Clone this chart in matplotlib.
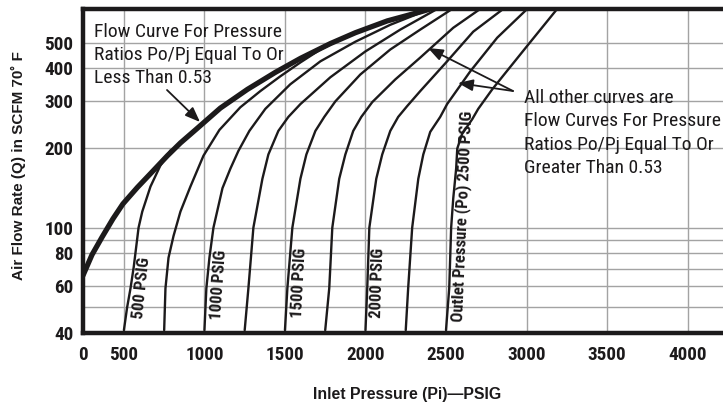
import numpy as np
import matplotlib
matplotlib.use('Agg')
import matplotlib.pyplot as plt
from matplotlib import font_manager as fm
from matplotlib.ticker import FixedLocator, FixedFormatter, NullFormatter

# ---------------- data ----------------
x_ticks = [0, 500, 1000, 1500, 2000, 2500, 3000, 3500, 4000]
x_labels = ['0', '500', '1000', '1500', '2000', '2500', '3000', '3500', '4000']
y_ticks = [40, 60, 80, 100, 200, 300, 400, 500]
y_labels = ['40', '60', '80', '100', '200', '300', '400', '500']
y_grid_minor = [50, 70, 90]

# critical flow curve (Po/Pi <= 0.53)
crit_pi = [0, 110, 232, 366, 488, 584, 665, 770, 851, 944, 1099, 1267, 1440, 1596, 1782, 1937, 2135, 2340, 2402]
crit_q = [66, 79, 92, 108, 123, 142, 160, 187, 209, 234, 283, 333, 386, 436, 496, 545, 604, 653, 670]

# outlet-pressure curves: inlet pressure (Pi) and flow (Q)
po500_pi = [500, 520, 541, 561, 591, 614, 665, 727, 790]
po500_q = [41, 50, 59, 71, 100, 115, 143, 172, 196]

po750_pi = [750, 758, 777, 808, 851, 913, 994, 1093, 1223, 1347, 1471, 1596, 1720, 1875, 2061, 2278]
po750_q = [41, 59, 77, 93, 115, 143, 187, 234, 285, 328, 373, 421, 471, 526, 584, 642]

po1000_pi = [1000, 1012, 1031, 1056, 1112, 1161, 1211, 1279, 1378, 1533, 1720, 1937, 2154, 2371]
po1000_q = [41, 59, 77, 100, 141, 167, 195, 232, 281, 348, 425, 504, 584, 659]

po1250_pi = [1250, 1273, 1304, 1360, 1397, 1459, 1521, 1596, 1782, 1999, 2216, 2445]
po1250_q = [41, 59, 100, 153, 189, 232, 262, 293, 370, 463, 560, 670]

po1500_pi = [1500, 1515, 1546, 1596, 1633, 1689, 1744, 1813, 1968, 2154, 2340, 2538]
po1500_q = [41, 59, 100, 153, 189, 232, 262, 300, 379, 471, 560, 670]

po1750_pi = [1750, 1775, 1794, 1837, 1875, 1924, 1974, 2042, 2185, 2340, 2545, 2712]
po1750_q = [41, 59, 100, 153, 189, 232, 262, 298, 363, 439, 569, 670]

po2000_pi = [2000, 2011, 2024, 2067, 2104, 2154, 2203, 2259, 2340, 2507, 2669, 2855]
po2000_q = [41, 59, 100, 153, 189, 232, 262, 288, 328, 425, 550, 670]

po2250_pi = [2250, 2265, 2290, 2328, 2359, 2402, 2464, 2507, 2650, 2818, 3004]
po2250_q = [41, 59, 100, 153, 189, 230, 262, 293, 389, 522, 670]

po2500_pi = [2500, 2520, 2532, 2545, 2563, 2570, 2600, 2663, 2700, 2787, 2861, 3010, 3190]
po2500_q = [41, 59, 100, 129, 167, 199, 226, 257, 281, 333, 379, 491, 670]

outlet_curves = [
    (po500_pi, po500_q), (po750_pi, po750_q), (po1000_pi, po1000_q),
    (po1250_pi, po1250_q), (po1500_pi, po1500_q), (po1750_pi, po1750_q),
    (po2000_pi, po2000_q), (po2250_pi, po2250_q), (po2500_pi, po2500_q),
]


# ---------------- fonts ----------------
def pick_condensed():
    cands = [('Liberation Sans Narrow', 'normal'), ('Arial Narrow', 'normal'),
             ('Roboto Condensed', 'normal'), ('Roboto', 'condensed'),
             ('DejaVu Sans', 'condensed'), ('Open Sans', 'condensed')]
    for fam, st in cands:
        try:
            p = fm.findfont(fm.FontProperties(family=fam, stretch=st), fallback_to_default=False)
        except Exception:
            continue
        low = p.lower()
        if 'narrow' in low or 'condensed' in low:
            return fam, st
    return None


_cond = pick_condensed()
if _cond is not None:
    NARROW, STRETCH = [_cond[0], 'DejaVu Sans'], _cond[1]
    TICK_FS, NOTE_FS, CURVE_FS = 13.8, 14, 12
else:
    NARROW, STRETCH = ['Liberation Sans', 'DejaVu Sans'], 'normal'
    TICK_FS, NOTE_FS, CURVE_FS = 11, 12, 10
SANS = ['Liberation Sans', 'DejaVu Sans']
INK = '#1c1a1b'
GRID = '#a3a3a3'

# ---------------- figure ----------------
W, H = 723, 404
fig = plt.figure(figsize=(W / 100, H / 100), dpi=100)
ax = fig.add_axes([83 / W, (H - 333) / H, (W - 83) / W, (333 - 9) / H])


def fwd(x):
    x = np.asarray(x, dtype=float)
    return np.where(x < 500, 246 + x * 0.508, x)


def inv(u):
    u = np.asarray(u, dtype=float)
    return np.where(u < 500, (u - 246) / 0.508, u)


ax.set_xscale('function', functions=(fwd, inv))
ax.set_yscale('log')
ax.set_xlim(0, 4220)
ax.set_ylim(40, 670)

ax.xaxis.set_major_locator(FixedLocator(x_ticks))
ax.xaxis.set_major_formatter(FixedFormatter(x_labels))
ax.xaxis.set_minor_locator(FixedLocator([]))
ax.yaxis.set_major_locator(FixedLocator(y_ticks))
ax.yaxis.set_major_formatter(FixedFormatter(y_labels))
ax.yaxis.set_minor_locator(FixedLocator(y_grid_minor))
ax.yaxis.set_minor_formatter(NullFormatter())
ax.grid(True, which='both', color=GRID, lw=1.0, zorder=0)
ax.set_axisbelow(True)

ax.tick_params(axis='both', which='both', length=0)
ax.tick_params(axis='x', pad=9)
ax.tick_params(axis='y', pad=7)
for lab in ax.get_xticklabels() + ax.get_yticklabels():
    lab.set_family(NARROW)
    lab.set_fontstretch(STRETCH)
    lab.set_fontweight('bold')
    lab.set_fontsize(TICK_FS)
    lab.set_color(INK)

for side in ['left', 'top', 'bottom']:
    ax.spines[side].set_linewidth(3.2)
    ax.spines[side].set_color(INK)
ax.spines['right'].set_visible(False)

for pi, q in outlet_curves:
    ax.plot(pi, q, color=INK, lw=1.7, solid_joinstyle='round', solid_capstyle='round', zorder=3)
ax.plot(crit_pi, crit_q, color=INK, lw=3.8, solid_joinstyle='round', solid_capstyle='round', zorder=4)


def px(x, y):
    return x / W, 1 - y / H


for s, (x, y), rot in [('500 PSIG', (142, 288), 84), ('1000 PSIG', (219, 285), 86),
                       ('1500 PSIG', (299, 283), 87), ('2000 PSIG', (378, 283), 88),
                       ('Outlet Pressure (Po) 2500 PSIG', (462, 216), 87.5)]:
    fig.text(*px(x, y), s, rotation=rot, rotation_mode='anchor', ha='center', va='center',
             family=NARROW, fontstretch=STRETCH, fontweight='bold', fontsize=CURVE_FS, color=INK)

left_lines = ['Flow Curve For Pressure', 'Ratios Po/Pj Equal To Or', 'Less Than 0.53']
for i, s in enumerate(left_lines):
    fig.text(*px(94, 37 + 23 * i), s, ha='left', va='baseline', family=NARROW,
             fontstretch=STRETCH, fontsize=NOTE_FS, color=INK)
right_lines = ['All other curves are', 'Flow Curves For Pressure', 'Ratios Po/Pj Equal To Or',
               'Greater Than 0.53']
for i, s in enumerate(right_lines):
    fig.text(*px(524, 103 + 23.3 * i), s, ha='left', va='baseline', family=NARROW,
             fontstretch=STRETCH, fontsize=NOTE_FS, color=INK)

arrow = dict(arrowstyle='-|>,head_length=0.9,head_width=0.35', lw=1.3, color=INK,
             shrinkA=0, shrinkB=0)
for tail, tip in [((167, 90), (200, 122)), ((513, 91), (428, 48)), ((513, 91), (458, 83))]:
    ax.annotate('', xy=(tip[0], H - tip[1]), xycoords='figure pixels',
                xytext=(tail[0], H - tail[1]), textcoords='figure pixels',
                arrowprops=arrow, annotation_clip=False)

fig.text(*px(18, 166), 'Air Flow Rate (Q) in SCFM 70˚ F', rotation=90, ha='center', va='center',
         family=SANS, fontweight='bold', fontsize=11, color=INK)
fig.text(*px(407, 394), 'Inlet Pressure (Pi)—PSIG', ha='center', va='center',
         family=SANS, fontweight='bold', fontsize=11.4, color=INK)

fig.savefig('out.png', dpi=100)
